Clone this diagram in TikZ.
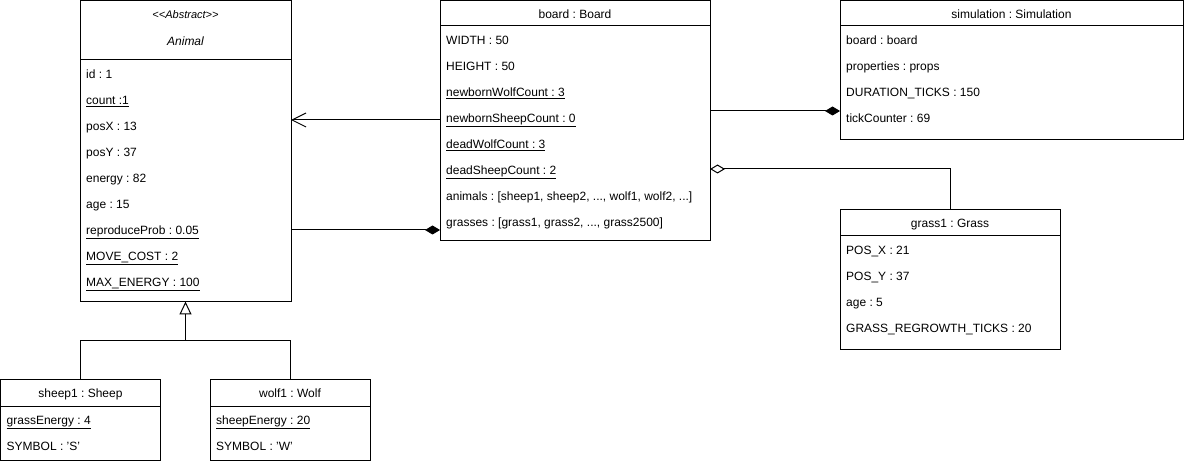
\documentclass[tikz,border=0pt]{standalone}
\usepackage{fontspec}
\setmainfont{Liberation Sans}
\usetikzlibrary{arrows.meta,positioning}
\tikzset{
  objbox/.style={draw, anchor=north west, inner sep=0pt, outer sep=0pt, line width=1pt},
  objtitle/.style={anchor=base, inner sep=0pt},
  attr/.style={anchor=base west, inner sep=0pt},
  link/.style={line width=1pt},
  composite/.style={link, -{Diamond[length=15pt,width=9pt]}},
  shared/.style={link, -{Diamond[open,length=15pt,width=9pt]}},
  navig/.style={link, -{Straight Barb[length=14pt,width=14pt]}},
  generalize/.style={link, -{Triangle[open,length=13pt,width=12pt]}},
}
% divider under the title of object #1, #2 below its top
\newcommand\objsep[2]{%
\draw[line width=1pt] ([yshift=-#2pt]#1.north west) -- ([yshift=-#2pt]#1.north east);
}
% three plain dots, kept away from \foreach
\newcommand\tdots{...}
\newcommand\umlsize{\fontsize{12pt}{14pt}\selectfont}
\frenchspacing

\begin{document}
\begin{tikzpicture}[x=1pt,y=-1pt,font=\umlsize]
  \useasboundingbox (0,0) rectangle (1184,462);

  %% the objects
  \node[objbox, minimum width=211pt, minimum height=301pt] (animal) at (80,0.5) {};
  \node[objbox, minimum width=270pt, minimum height=240pt] (board) at (440,0.5) {};
  \node[objbox, minimum width=343pt, minimum height=139pt] (simulation) at (840,0.5) {};
  \node[objbox, minimum width=220pt, minimum height=140pt] (grass) at (840,210) {};
  \node[objbox, minimum width=160pt, minimum height=80pt] (sheep) at (0.5,380) {};
  \node[objbox, minimum width=160pt, minimum height=80pt] (wolf) at (210,380) {};

  \objsep{animal}{59.5}
  \objsep{board}{25.5}
  \objsep{simulation}{25.5}
  \objsep{grass}{26}
  \objsep{sheep}{26}
  \objsep{wolf}{26}

  % titles
  \node[objtitle, font=\fontsize{11pt}{13pt}\selectfont\itshape] (animal-stereo) at (185.5,19) {<\kern0pt<Abstract>\kern0pt>};
  \node[objtitle, font=\umlsize\itshape] (animal-title) at (185.5,46) {Animal};
  \node[objtitle] (board-title) at (575,19) {board : Board};
  \node[objtitle] (simulation-title) at (1011.5,19) {simulation : Simulation};
  \node[objtitle] (grass-title) at (950,228) {grass1 : Grass};
  \node[objtitle] (sheep-title) at (80.5,398) {sheep1 : Sheep};
  \node[objtitle] (wolf-title) at (290,398) {wolf1 : Wolf};

  % attribute values
  \foreach \a [count=\i from 0] in {id : 1, \underline{count :1}, posX : 13, posY : 37,
      energy : 82, age : 15, \underline{reproduceProb : 0.05},
      \underline{MOVE\_COST : 2}, \underline{MAX\_ENERGY : 100}}
    \node[attr] (animal-\i) at (86,78.5+26*\i) {\a};
  \foreach \a [count=\i from 0] in {WIDTH : 50, HEIGHT : 50,
      \underline{newbornWolfCount : 3}, \underline{newbornSheepCount : 0},
      \underline{deadWolfCount : 3}, \underline{deadSheepCount : 2},
      {animals : [sheep1, sheep2, \tdots, wolf1, wolf2, \tdots]},
      {grasses : [grass1, grass2, \tdots, grass2500]}}
    \node[attr] (board-\i) at (446,44.5+26*\i) {\a};
  \foreach \a [count=\i from 0] in {board : board, properties : props,
      DURATION\_TICKS : 150, tickCounter : 69}
    \node[attr] (simulation-\i) at (846,44.5+26*\i) {\a};
  \foreach \a [count=\i from 0] in {POS\_X : 21, POS\_Y : 37, age : 5,
      GRASS\_REGROWTH\_TICKS : 20}
    \node[attr] (grass-\i) at (846,254.5+26*\i) {\a};
  \foreach \a [count=\i from 0] in {\underline{grassEnergy : 4}, SYMBOL : 'S'}
    \node[attr] (sheep-\i) at (6.5,424.5+26*\i) {\a};
  \foreach \a [count=\i from 0] in {\underline{sheepEnergy : 20}, SYMBOL : 'W'}
    \node[attr] (wolf-\i) at (216,424.5+26*\i) {\a};

  %% the links
  \draw[navig] (board.west |- 0,120) -- (animal.east |- 0,120);
  \draw[composite] (animal.east |- 0,230) -- (board.west |- 0,230);
  \draw[composite] (board.east |- 0,111) -- (simulation.west |- 0,111);
  \draw[shared] (grass.north) |- (board.east |- 0,169);
  \draw[link] (sheep.north) -- ++(0,-39) -| (wolf.north);
  \draw[generalize] (animal.south |- 0,341) -- (animal.south);
\end{tikzpicture}
\end{document}
